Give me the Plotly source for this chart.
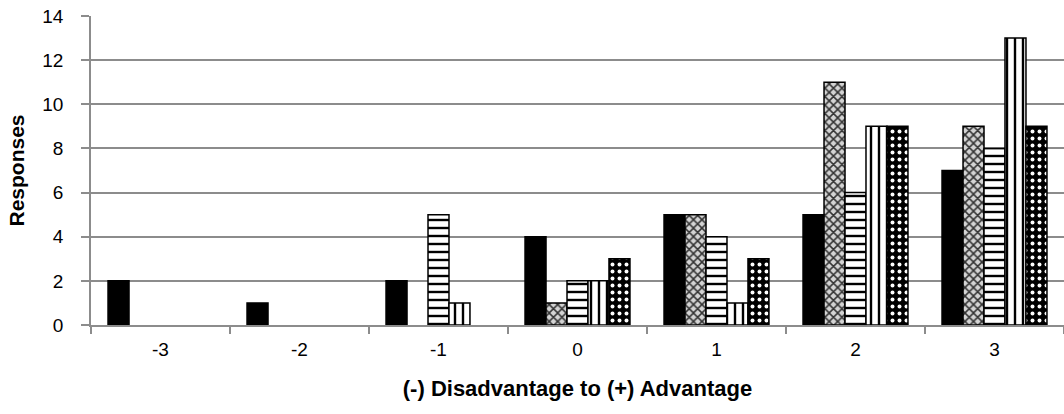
import plotly.graph_objects as go

# Response counts per advantage rating, one list per group
categories = ["-3", "-2", "-1", "0", "1", "2", "3"]
series_a = [2, 1, 2, 4, 5, 5, 7]
series_b = [0, 0, 0, 1, 5, 11, 9]
series_c = [0, 0, 5, 2, 4, 6, 8]
series_d = [0, 0, 1, 2, 1, 9, 13]
series_e = [0, 0, 0, 3, 3, 9, 9]
y_ticks = [0, 2, 4, 6, 8, 10, 12, 14]

FONT = "Liberation Sans, Arial, sans-serif"
GRID = "#8c8c8c"

styles = [
    dict(name="Group A", values=series_a, color="black",
         pattern=dict(shape="")),
    dict(name="Group B", values=series_b, color="white",
         pattern=dict(shape="x", fgcolor="#333333", bgcolor="#d4d4d4",
                      size=6, solidity=0.45, fillmode="replace")),
    dict(name="Group C", values=series_c, color="white",
         pattern=dict(shape="-", fgcolor="black", bgcolor="white",
                      size=8, solidity=0.3, fillmode="replace")),
    dict(name="Group D", values=series_d, color="white",
         pattern=dict(shape="|", fgcolor="black", bgcolor="white",
                      size=8, solidity=0.3, fillmode="replace")),
    dict(name="Group E", values=series_e, color="black",
         pattern=dict(shape=".", fgcolor="white", bgcolor="black",
                      size=7, solidity=0.25, fillmode="replace")),
]

fig = go.Figure()
for s in styles:
    # a count of zero leaves an empty slot rather than an outlined sliver
    shown = [v if v else None for v in s["values"]]
    fig.add_trace(go.Bar(
        x=categories,
        y=shown,
        name=s["name"],
        marker=dict(color=s["color"], pattern=s["pattern"],
                    line=dict(color="black", width=1.5)),
        showlegend=False,
    ))

fig.update_layout(
    width=1064,
    height=414,
    margin=dict(l=91, r=0, t=16, b=89),
    paper_bgcolor="white",
    plot_bgcolor="white",
    barmode="group",
    bargap=0.245,
    bargroupgap=0,
    font=dict(family=FONT, size=19, color="black"),
    xaxis=dict(
        type="category",
        tickson="boundaries",
        ticks="outside",
        ticklen=7,
        tickwidth=1.5,
        tickcolor=GRID,
        showline=True,
        linecolor=GRID,
        linewidth=1.5,
        showgrid=False,
        tickfont=dict(size=19),
        ticklabelstandoff=6,
        title=dict(text="<b>(-) Disadvantage to (+) Advantage</b>",
                   font=dict(size=22), standoff=22),
    ),
    yaxis=dict(
        range=[0, 14],
        tickvals=y_ticks,
        ticks="outside",
        ticklen=8,
        tickwidth=1.5,
        tickcolor=GRID,
        showline=True,
        linecolor=GRID,
        linewidth=1.5,
        showgrid=True,
        gridcolor=GRID,
        gridwidth=1.5,
        zeroline=False,
        tickfont=dict(size=19),
        ticklabelstandoff=14,
        title=dict(text="<b>Responses</b>", font=dict(size=21), standoff=12),
    ),
)

fig.write_html("out.html")
